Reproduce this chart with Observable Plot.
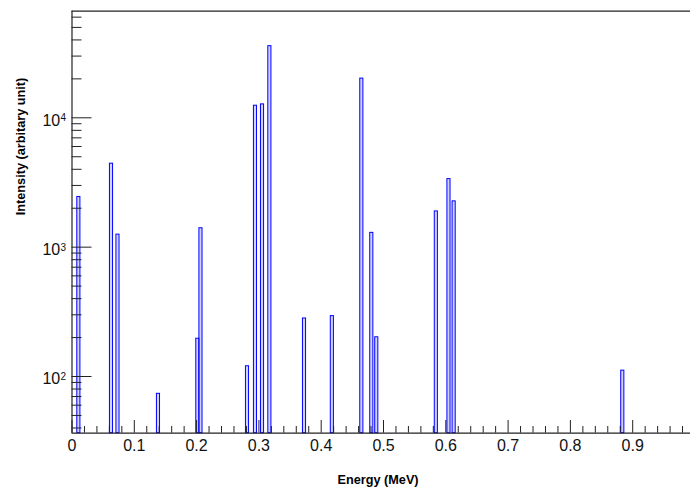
<!DOCTYPE html>
<html><head><meta charset="utf-8">
<script src="https://cdn.jsdelivr.net/npm/d3@7"></script>
<script src="https://cdn.jsdelivr.net/npm/@observablehq/plot@0.6"></script>
<style>html,body{margin:0;padding:0;background:#fff;}</style>
</head><body><div id="chart"></div>
<script>
// Bin centres (MeV) and bin contents
const energy = [0.0110, 0.0634, 0.0738, 0.1388, 0.2020, 0.2070, 0.2817, 0.2945, 0.3058, 0.3176,
                0.3732, 0.4179, 0.4652, 0.4812, 0.4892, 0.5848, 0.6051, 0.6134, 0.8841];
const intensity = [2440, 4420, 1250, 73.5, 196, 1400, 120, 12400, 12700, 35800,
                   281, 293, 20100, 1290, 201, 1890, 3360, 2260, 111];
const binWidth = 0.005;

const xTicksMajor = [0, 0.1, 0.2, 0.3, 0.4, 0.5, 0.6, 0.7, 0.8, 0.9];
const xTickLabels = ["0", "0.1", "0.2", "0.3", "0.4", "0.5", "0.6", "0.7", "0.8", "0.9"];
const yTicksMajor = [100, 1000, 10000];
const yTickBase = ["10", "10", "10"];
const yTickExponents = ["2", "3", "4"];
const xTitle = "Energy (MeV)";
const yTitle = "Intensity (arbitary unit)";

const xDomain = [0, 1];
const yDomain = [36.45, 66710];

const W = 690, H = 489;
const mL = 71.5, mR = 0, mT = 10.7, mB = 56.3;
const frameW = W - mL - mR, frameH = H - mT - mB;

const bins = energy.map((e, i) => ({e, v: intensity[i]}));
const xMinor = d3.range(1, 50).map(i => +(i * 0.02).toFixed(2)).filter(v => Math.abs(v * 10 - Math.round(v * 10)) > 1e-6);
const yMinor = [];
for (const dec of [10, 100, 1000, 10000]) for (let k = 2; k <= 9; k++) { const v = k * dec; if (v > yDomain[0] && v < yDomain[1]) yMinor.push(v); }

const axisColor = "#222";
const chart = Plot.plot({
  width: W, height: H,
  marginLeft: mL, marginRight: mR, marginTop: mT, marginBottom: mB,
  style: {fontFamily: "'Liberation Sans', Arial, Helvetica, sans-serif", fontSize: "16px", background: "white", color: "#111", overflow: "hidden"},
  x: {domain: xDomain, range: [mL, mL + 623], axis: null},
  y: {type: "log", domain: yDomain, range: [H - mB, mT], axis: null},
  marks: [
    Plot.rect(bins, {x1: d => d.e - binWidth / 2, x2: d => d.e + binWidth / 2, y1: yDomain[0], y2: "v",
      stroke: "#0000ff", strokeWidth: 1, fill: "#0000ff", fillOpacity: 0.18}),
    // frame
    Plot.ruleX([0], {stroke: axisColor, strokeWidth: 1.2}),
    Plot.ruleY([yDomain[0], yDomain[1]], {stroke: axisColor, strokeWidth: 1.2}),
    // x ticks (inside)
    Plot.tickX(xTicksMajor, {x: d => d, insetTop: frameH - 12.7, stroke: axisColor}),
    Plot.tickX(xMinor, {x: d => d, insetTop: frameH - 6.7, stroke: axisColor}),
    // y ticks (inside)
    Plot.tickY(yTicksMajor, {y: d => d, insetRight: frameW - 20, stroke: axisColor}),
    Plot.tickY(yMinor, {y: d => d, insetRight: frameW - 10, stroke: axisColor}),
    // x tick labels
    Plot.text(xTicksMajor, {x: d => d, y: yDomain[0], text: (d, i) => xTickLabels[i], dy: 18, lineAnchor: "bottom", fontSize: 16, fill: "#111"}),
    // y tick labels 10^n
    Plot.text(yTicksMajor, {x: 0, y: d => d, text: (d, i) => yTickBase[i], textAnchor: "end", dx: -11.8, dy: 7.8, lineAnchor: "bottom", fontSize: 16, fill: "#111"}),
    Plot.text(yTicksMajor, {x: 0, y: d => d, text: (d, i) => yTickExponents[i], textAnchor: "start", dx: -11.4, dy: 3.4, lineAnchor: "bottom", fontSize: 10, fill: "#111"}),
    // axis titles
    Plot.text([xTitle], {frameAnchor: "bottom", text: d => d, dx: -3.2, dy: 50.6, lineAnchor: "bottom", fontSize: 12.7, fontWeight: "bold", fill: "#000"}),
    Plot.text([yTitle], {frameAnchor: "left", text: d => d, rotate: -90, dx: -47.4, dy: -7, lineAnchor: "bottom", fontSize: 12.7, fontWeight: "bold", fill: "#000"})
  ]
});
document.getElementById("chart").appendChild(chart);
</script>
</body></html>
